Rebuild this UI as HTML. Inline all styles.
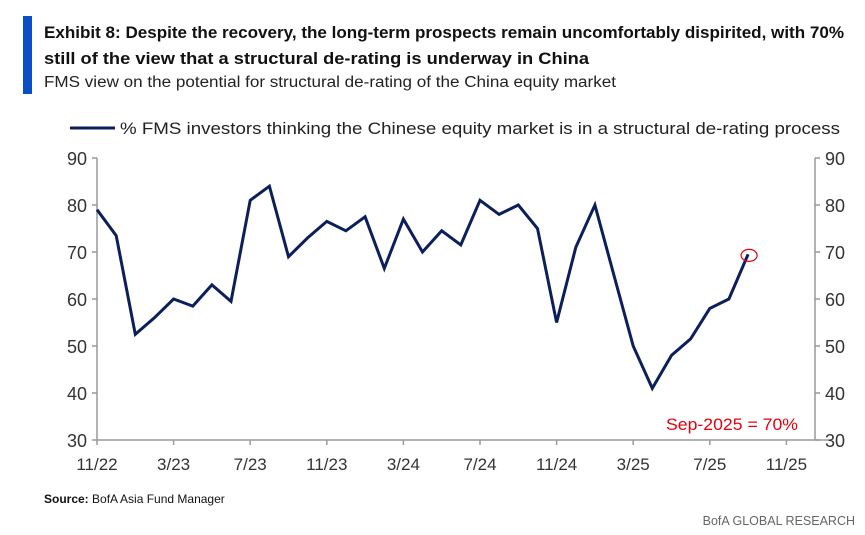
<!DOCTYPE html>
<html><head><meta charset="utf-8"><style>
html,body{margin:0;padding:0;background:#fff;}
svg{display:block;font-family:"Liberation Sans",sans-serif;}
</style></head><body>
<svg id="chart" width="865" height="535" viewBox="0 0 865 535">
<rect x="23" y="16" width="9" height="78" fill="#0A4FC6"/>
<text x="44" y="38" font-size="16.5" font-weight="bold" fill="#111" textLength="800" lengthAdjust="spacingAndGlyphs">Exhibit 8: Despite the recovery, the long-term prospects remain uncomfortably dispirited, with 70%</text>
<text x="44" y="64" font-size="16.5" font-weight="bold" fill="#111" textLength="545" lengthAdjust="spacingAndGlyphs">still of the view that a structural de-rating is underway in China</text>
<text x="44" y="87" font-size="15.5" fill="#222" textLength="572" lengthAdjust="spacingAndGlyphs">FMS view on the potential for structural de-rating of the China equity market</text>
<g>
<line x1="70" y1="128" x2="115" y2="128" stroke="#0B1F5C" stroke-width="3"/>
<text x="120" y="134" font-size="17" fill="#222" textLength="720" lengthAdjust="spacingAndGlyphs">% FMS investors thinking the Chinese equity market is in a structural de-rating process</text>
</g>
<g id="axes"></g>
<g id="plot"></g>
<text x="798" y="430" font-size="17" fill="#E8000D" text-anchor="end" textLength="132" lengthAdjust="spacingAndGlyphs">Sep-2025 = 70%</text>
<text x="44" y="503" font-size="12" fill="#111"><tspan font-weight="bold">Source:</tspan> BofA Asia Fund Manager</text>
<text x="855" y="525" font-size="12.5" fill="#666" text-anchor="end">BofA GLOBAL RESEARCH</text>
</svg>
<script>
const months = ["11/22","12/22","1/23","2/23","3/23","4/23","5/23","6/23","7/23","8/23","9/23","10/23","11/23","12/23","1/24","2/24","3/24","4/24","5/24","6/24","7/24","8/24","9/24","10/24","11/24","12/24","1/25","2/25","3/25","4/25","5/25","6/25","7/25","8/25","9/25"];
const values = [79,73.5,52.5,56,60,58.5,63,59.5,81,84,69,73,76.5,74.5,77.5,66.5,77,70,74.5,71.5,81,78,80,75,55,71,80,65,50,41,48,51.5,58,60,69.5];
const xTickLabels = ["11/22","3/23","7/23","11/23","3/24","7/24","11/24","3/25","7/25","11/25"];
const yTicks = [30,40,50,60,70,80,90];

const NS="http://www.w3.org/2000/svg";
const X0=97, PXM=19.15, Y30=440, Y90=158;
function monthIndex(lbl){const [m,y]=lbl.split("/").map(Number);return (y-22)*12+(m-11);}
function xs(i){return X0+i*PXM;}
function ys(v){return Y30-(v-30)*(Y30-Y90)/60;}
function mk(tag,attrs,parent){const e=document.createElementNS(NS,tag);for(const k in attrs)e.setAttribute(k,attrs[k]);parent.appendChild(e);return e;}
const axes=document.getElementById("axes"), plot=document.getElementById("plot");
const XR=815, XEND=840;
// axis lines
let a=mk("line",{x1:X0,y1:Y90,x2:X0,y2:Y30,stroke:"#999","stroke-width":1.5},axes);


a=mk("line",{x1:XR,y1:Y90,x2:XR,y2:Y30,stroke:"#999","stroke-width":1.5},axes);


a=mk("line",{x1:X0,y1:Y30,x2:XR+15,y2:Y30,stroke:"#999","stroke-width":1.5},axes);


yTicks.forEach(v=>{
  const y=ys(v);
  let t=mk("line",{x1:X0-5,y1:y,x2:X0,y2:y,stroke:"#999","stroke-width":1.5},axes);
  
  
  t=mk("line",{x1:XR,y1:y,x2:XR+5,y2:y,stroke:"#999","stroke-width":1.5},axes);
  
  
  let l=mk("text",{x:X0-10,y:y+7,"font-size":18,fill:"#333","text-anchor":"end"},axes);
  l.textContent=v;
  
  
  l=mk("text",{x:XR+10,y:y+7,"font-size":18,fill:"#333"},axes);
  l.textContent=v;
  
  
});
xTickLabels.forEach(lbl=>{
  const x=xs(monthIndex(lbl));
  let t=mk("line",{x1:x,y1:Y30,x2:x,y2:Y30+5,stroke:"#999","stroke-width":1.5},axes);
  
  
  let l=mk("text",{x:x,y:Y30+30,"font-size":17,fill:"#333","text-anchor":"middle"},axes);
  l.textContent=lbl;
  
  
});
const pts=values.map((v,i)=>xs(monthIndex(months[i])).toFixed(1)+","+ys(v).toFixed(1)).join(" ");
const line=mk("polyline",{points:pts,fill:"none",stroke:"#0B1F5C","stroke-width":3,"stroke-linejoin":"miter"},plot);


const li=values.length-1;
const c=mk("ellipse",{cx:xs(monthIndex(months[li]))+1,cy:ys(values[li])+1,rx:8,ry:6,fill:"none",stroke:"#E8000D","stroke-width":1.2},plot);


</script>
</body></html>
